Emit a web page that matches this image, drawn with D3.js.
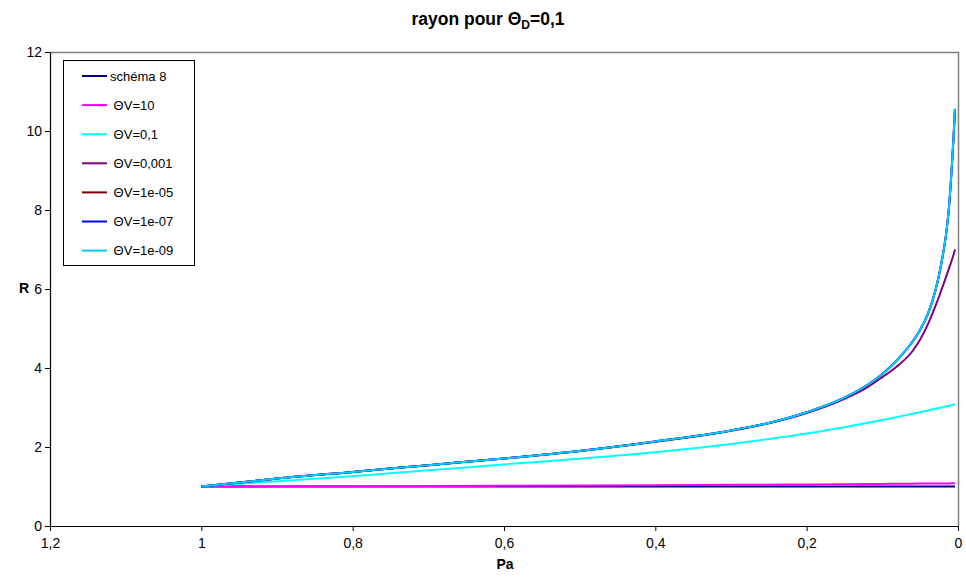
<!DOCTYPE html>
<html>
<head>
<meta charset="utf-8">
<script src="https://cdn.jsdelivr.net/npm/d3@7"></script>
<style>
  html, body { margin: 0; padding: 0; background: #fff; }
  svg { display: block; font-family: "Liberation Sans", Arial, sans-serif; }
</style>
</head>
<body>
<svg id="chart" width="966" height="578"></svg>
<script>
// ---- data ----
const pa = [1, 0.95, 0.9, 0.8, 0.7, 0.6, 0.5, 0.4, 0.3, 0.25, 0.2, 0.15, 0.12, 0.1, 0.08, 0.06, 0.05, 0.04, 0.03, 0.025, 0.02, 0.015, 0.012, 0.01, 0.008, 0.006, 0.004];
const seriesNames = ["schéma 8", " ΘV=10", " ΘV=0,1", " ΘV=0,001", " ΘV=1e-05", " ΘV=1e-07", " ΘV=1e-09"];
const seriesColors = ["#000080", "#FF00FF", "#00FFFF", "#800080", "#800000", "#0000FF", "#00CCFF"];
const schema8 = [1, 1, 1, 1, 1, 1, 1, 1, 1, 1, 1, 1, 1, 1, 1, 1, 1, 1, 1, 1, 1, 1, 1, 1, 1, 1, 1];
const thetaV10 = [1.0, 1.002, 1.004, 1.008, 1.013, 1.018, 1.024, 1.032, 1.042, 1.047, 1.052, 1.058, 1.062, 1.065, 1.068, 1.071, 1.073, 1.074, 1.076, 1.077, 1.078, 1.078, 1.079, 1.079, 1.08, 1.08, 1.08];
const thetaV0_1 = [1.0, 1.07, 1.135, 1.26, 1.41, 1.56, 1.705, 1.87, 2.077, 2.202, 2.342, 2.502, 2.61, 2.682, 2.762, 2.842, 2.882, 2.924, 2.967, 2.988, 3.01, 3.032, 3.045, 3.053, 3.062, 3.071, 3.08];
const thetaV0_001 = [1.0, 1.1, 1.2, 1.37, 1.54, 1.71, 1.9, 2.13, 2.41, 2.6, 2.86, 3.22, 3.51, 3.77, 4.05, 4.43, 4.72, 5.1, 5.56, 5.81, 6.08, 6.35, 6.515, 6.625, 6.74, 6.86, 7.0];
const thetaV1e05 = [1.0, 1.1, 1.2, 1.37, 1.54, 1.71, 1.9, 2.14, 2.42, 2.61, 2.88, 3.25, 3.57, 3.85, 4.21, 4.67, 4.97, 5.36, 5.95, 6.36, 6.86, 7.5, 8.05, 8.55, 9.15, 9.8, 10.56];
const thetaV1e07 = [1.0, 1.1, 1.2, 1.37, 1.54, 1.71, 1.9, 2.14, 2.42, 2.61, 2.88, 3.25, 3.57, 3.85, 4.21, 4.67, 4.97, 5.36, 5.95, 6.36, 6.86, 7.5, 8.05, 8.55, 9.15, 9.8, 10.56];
const thetaV1e09 = [1.0, 1.1, 1.2, 1.37, 1.54, 1.71, 1.9, 2.14, 2.42, 2.61, 2.88, 3.25, 3.57, 3.85, 4.21, 4.67, 4.97, 5.36, 5.95, 6.36, 6.86, 7.5, 8.05, 8.55, 9.15, 9.8, 10.56];
const xTicks = [1.2, 1, 0.8, 0.6, 0.4, 0.2, 0];
const yTicks = [0, 2, 4, 6, 8, 10, 12];

const allSeries = [schema8, thetaV10, thetaV0_1, thetaV0_001, thetaV1e05, thetaV1e07, thetaV1e09];

// ---- chart ----
const svg = d3.select("#chart");
const L = 50, R = 958, T = 52, B = 526;
const x = d3.scaleLinear().domain([1.2, 0]).range([L, R]);
const y = d3.scaleLinear().domain([0, 12]).range([B, T]);
const fmt = d => String(d).replace(".", ",");

// plot border (top/right gray)
svg.append("path")
  .attr("d", `M${L},${T + 0.5}H${R + 0.5}V${B}`)
  .attr("fill", "none").attr("stroke", "#808080").attr("stroke-width", 1.5);

// series
const line = d3.line().x(d => x(d[0])).y(d => y(d[1])).curve(d3.curveMonotoneX);
allSeries.forEach((vals, i) => {
  svg.append("path")
    .datum(pa.map((p, j) => [p, vals[j]]))
    .attr("fill", "none")
    .attr("stroke", seriesColors[i])
    .attr("stroke-width", 2)
    .attr("d", line);
});

// axes
const xAxis = svg.append("g").attr("transform", `translate(0,${B})`)
  .call(d3.axisBottom(x).tickValues(xTicks).tickFormat(fmt).tickSize(5).tickSizeOuter(0).tickPadding(7));
const yAxis = svg.append("g").attr("transform", `translate(${L},0)`)
  .call(d3.axisLeft(y).tickValues(yTicks).tickFormat(fmt).tickSize(5).tickSizeOuter(0).tickPadding(3));
[xAxis, yAxis].forEach(g => {
  g.selectAll("path").attr("stroke", "#000").attr("stroke-width", 1.2);
  g.selectAll("line").attr("stroke", "#000");
  g.selectAll("text").attr("fill", "#000").style("font-size", "14px").style("font-family", '"Liberation Sans", Arial, sans-serif');
});

// axis titles
svg.append("text").attr("x", (L + R) / 2 + 1).attr("y", 569).attr("text-anchor", "middle")
  .style("font-size", "14px").style("font-weight", "bold").text("Pa");
svg.append("text").attr("x", 24).attr("y", 293).attr("text-anchor", "middle")
  .style("font-size", "14px").style("font-weight", "bold").text("R");

// title
const title = svg.append("text").attr("x", 488).attr("y", 25).attr("text-anchor", "middle")
  .style("font-size", "17.5px").style("font-weight", "bold");
title.append("tspan").text("rayon pour Θ");
title.append("tspan").attr("dy", 4).style("font-size", "12px").text("D");
title.append("tspan").attr("dy", -4).text("=0,1");

// legend
const lg = svg.append("g");
lg.append("rect").attr("x", 63.5).attr("y", 60.5).attr("width", 131).attr("height", 205)
  .attr("fill", "#fff").attr("stroke", "#000").attr("stroke-width", 1);
seriesNames.forEach((name, i) => {
  const cy = 76 + i * 29.1;
  lg.append("line").attr("x1", 82).attr("x2", 107).attr("y1", cy).attr("y2", cy)
    .attr("stroke", seriesColors[i]).attr("stroke-width", 2);
  lg.append("text").attr("x", 110).attr("y", cy + 4.5)
    .style("font-size", "13px").style("white-space", "pre").attr("xml:space", "preserve").text(name);
});
</script>
</body>
</html>
